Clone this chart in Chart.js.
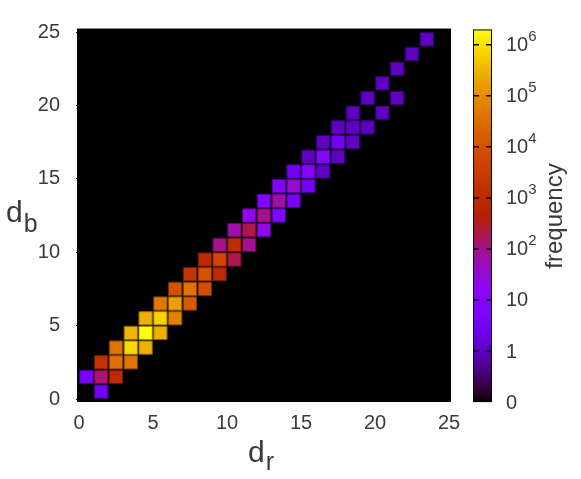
<!DOCTYPE html>
<html>
<head>
<meta charset="utf-8">
<script src="https://cdn.jsdelivr.net/npm/chart.js@4.4.0/dist/chart.umd.min.js"></script>
<style>
  html, body { margin: 0; padding: 0; background: #fff; }
</style>
</head>
<body>
<canvas id="heatmap" width="581" height="479"></canvas>
<script>
const cellDr = [1, 0, 1, 2, 1, 2, 3, 2, 3, 4, 3, 4, 5, 4, 5, 6, 5, 6, 7, 6, 7, 8, 7, 8, 9,
  8, 9, 10, 9, 10, 11, 10, 11, 12, 11, 12, 13, 12, 13, 14, 13, 14, 15, 14, 15, 16,
  15, 16, 17, 16, 17, 18, 17, 18, 19, 18, 20, 19, 21, 20, 21, 22, 23];
const cellDb = [0, 1, 1, 1, 2, 2, 2, 3, 3, 3, 4, 4, 4, 5, 5, 5, 6, 6, 6, 7, 7, 7, 8, 8, 8,
  9, 9, 9, 10, 10, 10, 11, 11, 11, 12, 12, 12, 13, 13, 13, 14, 14, 14, 15, 15, 15,
  16, 16, 16, 17, 17, 17, 18, 18, 18, 19, 19, 20, 20, 21, 22, 23, 24];
const cellFreq = [3, 5, 126, 1000, 1600, 35000, 45000, 40000, 800000, 280000,
  316000, 2000000, 280000, 280000, 700000, 63000, 50000, 178000, 14000,
  10000, 40000, 8900, 2000, 10000, 1000, 900, 6300, 200, 100, 1100, 90,
  63, 200, 20, 20, 90, 8, 8, 70, 4, 8, 35, 3, 3, 10, 1, 1, 8, 1, 1, 3, 1,
  1, 1, 1, 1, 1, 1, 1, 1, 1, 1, 1];

const axisTicks = [0, 5, 10, 15, 20, 25];
// colour box: log10(frequency), the bottom label "0" sits one decade below 1
const cbTickValues = [-1, 0, 1, 2, 3, 4, 5, 6];
const cbTickBase = ['0', '1', '10', '10', '10', '10', '10', '10'];
const cbTickExp = ['', '', '', '2', '3', '4', '5', '6'];
const cbLow = -1;
const cbHigh = 6.3;

const fontFamily = '"Liberation Sans", Arial, sans-serif';
const textColor = '#3a3a3a';

// gnuplot default palette (rgbformulae 7,5,15)
function paletteRGB(x) {
  const t = Math.min(1, Math.max(0, x));
  const r = Math.sqrt(t);
  const g = t * t * t;
  const b = Math.max(0, Math.sin(2 * Math.PI * t));
  return [Math.round(r * 255), Math.round(g * 255), Math.round(b * 255)];
}
function colorFor(value, k = 1) {
  const x = (value - cbLow) / (cbHigh - cbLow);
  const [r, g, b] = paletteRGB(x);
  return `rgb(${Math.round(r * k)}, ${Math.round(g * k)}, ${Math.round(b * k)})`;
}

const points = cellDr.map((dr, i) => ({ x: dr + 0.5, y: cellDb[i] + 0.5, f: cellFreq[i] }));

function cellRadius(ctx) {
  const s = ctx.chart.scales.x;
  const pitch = s.getPixelForValue(1) - s.getPixelForValue(0);
  return (pitch * 0.9) / Math.SQRT2;
}

const backgroundPlugin = {
  id: 'blackArea',
  beforeDatasetsDraw(chart) {
    const { ctx, chartArea: a } = chart;
    ctx.save();
    ctx.fillStyle = '#000';
    ctx.fillRect(a.left - 2, a.top - 3, a.right - a.left + 4, a.bottom - a.top + 6);
    ctx.strokeStyle = '#888';
    ctx.lineWidth = 1;
    ctx.beginPath();
    ctx.moveTo(a.left - 2, a.top - 3.5);
    ctx.lineTo(a.right + 2, a.top - 3.5);
    ctx.stroke();
    ctx.restore();
  },
};

function drawSub(ctx, x, y, main, sub, size, subSize, drop) {
  ctx.font = `${size}px ${fontFamily}`;
  ctx.fillText(main, x, y);
  const w = ctx.measureText(main).width;
  ctx.font = `${subSize}px ${fontFamily}`;
  ctx.fillText(sub, x + w + 1, y + drop);
}

const decorPlugin = {
  id: 'decor',
  afterDraw(chart) {
    const { ctx, chartArea: a } = chart;
    const cb = chart.scales.cb;
    ctx.save();
    ctx.fillStyle = textColor;
    ctx.textBaseline = 'alphabetic';
    ctx.textAlign = 'left';

    // axis titles with subscripts
    drawSub(ctx, 6, 222, 'd', 'b', 30, 25, 10);
    drawSub(ctx, a.left + (a.right - a.left) / 2 - 16, 462, 'd', 'r', 30, 25, 8);

    // colour box
    const left = a.right + 24;
    const width = 19;
    const yBot = cb.getPixelForValue(cbLow);
    const yTop = cb.getPixelForValue(cbHigh);
    const grad = ctx.createLinearGradient(0, yBot, 0, yTop);
    for (let i = 0; i <= 50; i++) {
      const v = cbLow + (cbHigh - cbLow) * i / 50;
      grad.addColorStop(i / 50, colorFor(v));
    }
    ctx.fillStyle = grad;
    ctx.fillRect(left, yTop, width, yBot - yTop);
    ctx.strokeStyle = '#000';
    ctx.lineWidth = 1;
    ctx.strokeRect(left + 0.5, yTop + 0.5, width - 1, yBot - yTop - 1);

    ctx.lineWidth = 1.5;
    cbTickValues.forEach((v, i) => {
      const y = cb.getPixelForValue(v);
      if (v > cbLow) {
        ctx.beginPath();
        ctx.moveTo(left, y);
        ctx.lineTo(left + 6, y);
        ctx.moveTo(left + width - 6, y);
        ctx.lineTo(left + width, y);
        ctx.stroke();
      }
      ctx.fillStyle = textColor;
      ctx.textBaseline = 'middle';
      ctx.font = `20px ${fontFamily}`;
      const lx = left + width + 14;
      ctx.fillText(cbTickBase[i], lx, y + 1);
      if (cbTickExp[i]) {
        const w = ctx.measureText(cbTickBase[i]).width;
        ctx.font = `15px ${fontFamily}`;
        ctx.fillText(cbTickExp[i], lx + w, y - 8);
      }
    });

    // colour box title
    ctx.translate(a.right + 106, 216);
    ctx.rotate(-Math.PI / 2);
    ctx.textAlign = 'center';
    ctx.textBaseline = 'middle';
    ctx.font = `24px ${fontFamily}`;
    ctx.fillStyle = textColor;
    ctx.fillText('frequency', 0, 0);
    ctx.restore();
  },
};

const tickFont = { family: fontFamily, size: 20 };

new Chart(document.getElementById('heatmap'), {
  type: 'scatter',
  data: {
    datasets: [{
      label: 'frequency',
      data: points,
      pointStyle: 'rect',
      pointRadius: cellRadius,
      pointHoverRadius: cellRadius,
      backgroundColor: (c) => (c.raw ? colorFor(Math.log10(c.raw.f)) : '#000'),
      borderColor: (c) => (c.raw ? colorFor(Math.log10(c.raw.f), 0.55) : '#000'),
      borderWidth: 1,
    }],
  },
  options: {
    responsive: false,
    animation: false,
    layout: { padding: { top: 32, left: 0, right: 0, bottom: 0 } },
    plugins: {
      legend: { display: false },
      tooltip: { enabled: false },
    },
    scales: {
      x: {
        type: 'linear',
        min: 0,
        max: 25,
        afterBuildTicks: (s) => { s.ticks = axisTicks.map((v) => ({ value: v })); },
        afterFit: (s) => { s.height = 80; },
        ticks: { font: tickFont, color: textColor, padding: 9, maxRotation: 0 },
        grid: { drawOnChartArea: false, tickLength: 3, color: '#000' },
        border: { color: '#000' },
      },
      y: {
        type: 'linear',
        min: 0,
        max: 25,
        afterBuildTicks: (s) => { s.ticks = axisTicks.map((v) => ({ value: v })); },
        afterFit: (s) => { s.width = 79; },
        ticks: { font: tickFont, color: textColor, padding: 16 },
        grid: { drawOnChartArea: false, tickLength: 3, color: '#000' },
        border: { color: '#000' },
      },
      cb: {
        type: 'linear',
        position: 'right',
        min: -0.94,
        max: 6.25,
        afterFit: (s) => { s.width = 132; },
        ticks: { display: false },
        grid: { display: false },
        border: { display: false },
      },
    },
  },
  plugins: [backgroundPlugin, decorPlugin],
});
</script>
</body>
</html>
